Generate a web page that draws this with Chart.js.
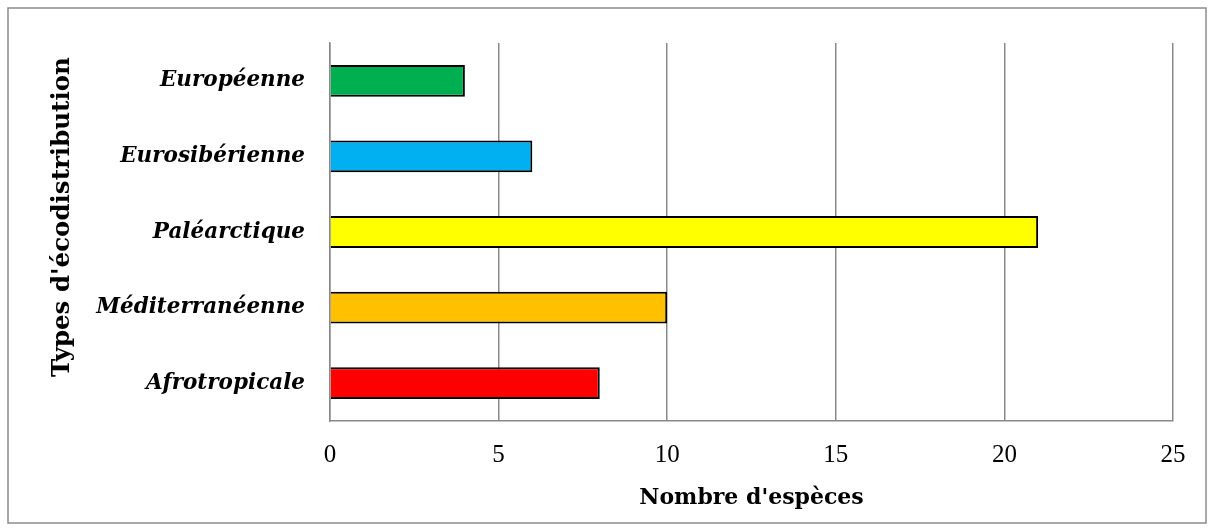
<!DOCTYPE html>
<html>
<head>
<meta charset="utf-8">
<script src="https://cdn.jsdelivr.net/npm/chart.js@4"></script>
<style>
  html, body { margin: 0; padding: 0; background: #ffffff; }
  #wrap { width: 1214px; height: 531px; }
</style>
</head>
<body>
<div id="wrap"><canvas id="chart" width="1214" height="531"></canvas></div>
<script>
// Écodistribution des espèces
const categories = ['Européenne', 'Eurosibérienne', 'Paléarctique', 'Méditerranéenne', 'Afrotropicale'];
const speciesCount = [4, 6, 21, 10, 8];
const barColors = ['#00B050', '#00B0F0', '#FFFF00', '#FFC000', '#FF0000'];
const xTicks = [0, 5, 10, 15, 20, 25];
const xTitle = "Nombre d'espèces";
const yTitle = "Types d'écodistribution";

const GRID = '#898989';

// Outer frame and rotated y-axis title
const framePlugin = {
  id: 'frame',
  beforeDraw(chart) {
    const ctx = chart.ctx;
    ctx.save();
    ctx.fillStyle = '#ffffff';
    ctx.fillRect(0, 0, chart.width, chart.height);
    ctx.restore();
  },
  afterDraw(chart) {
    const ctx = chart.ctx;
    ctx.save();
    ctx.strokeStyle = '#8c8c8c';
    ctx.lineWidth = 1.5;
    ctx.strokeRect(8, 8, chart.width - 16, chart.height - 16);
    ctx.translate(69, 217);
    ctx.rotate(-Math.PI / 2);
    ctx.font = 'bold 24.5px "DejaVu Serif"';
    ctx.fillStyle = '#000000';
    ctx.textAlign = 'center';
    ctx.textBaseline = 'alphabetic';
    ctx.fillText(yTitle, 0, 0);
    ctx.restore();
  }
};

new Chart(document.getElementById('chart'), {
  type: 'bar',
  data: {
    labels: categories,
    datasets: [{
      data: speciesCount,
      backgroundColor: barColors,
      borderColor: '#000000',
      borderWidth: 2,
      categoryPercentage: 1.0,
      barPercentage: 0.42
    }]
  },
  options: {
    indexAxis: 'y',
    responsive: false,
    animation: false,
    layout: { padding: { top: 43, right: 41, bottom: 0, left: 0 } },
    plugins: {
      legend: { display: false },
      tooltip: { enabled: false }
    },
    scales: {
      x: {
        min: 0,
        max: 25,
        afterBuildTicks(scale) {
          scale.ticks = xTicks.map(v => ({ value: v }));
        },
        afterFit(scale) { scale.height = 110; },
        grid: { color: GRID, lineWidth: 1.5, drawTicks: false },
        border: { color: GRID, width: 1.5 },
        ticks: {
          color: '#000000',
          padding: 19,
          font: { family: '"Liberation Serif"', size: 25 }
        },
        title: {
          display: true,
          text: xTitle,
          color: '#000000',
          padding: { top: 0, bottom: 20 },
          font: { family: '"DejaVu Serif"', size: 22, weight: 'bold' }
        }
      },
      y: {
        afterFit(scale) { scale.width = 330; },
        grid: { display: false, drawTicks: false },
        border: { color: GRID, width: 1.5 },
        ticks: {
          color: '#000000',
          padding: 25,
          font: { family: '"DejaVu Serif"', size: 21.5, weight: 'bold', style: 'italic' }
        }
      }
    }
  },
  plugins: [framePlugin]
});
</script>
</body>
</html>
